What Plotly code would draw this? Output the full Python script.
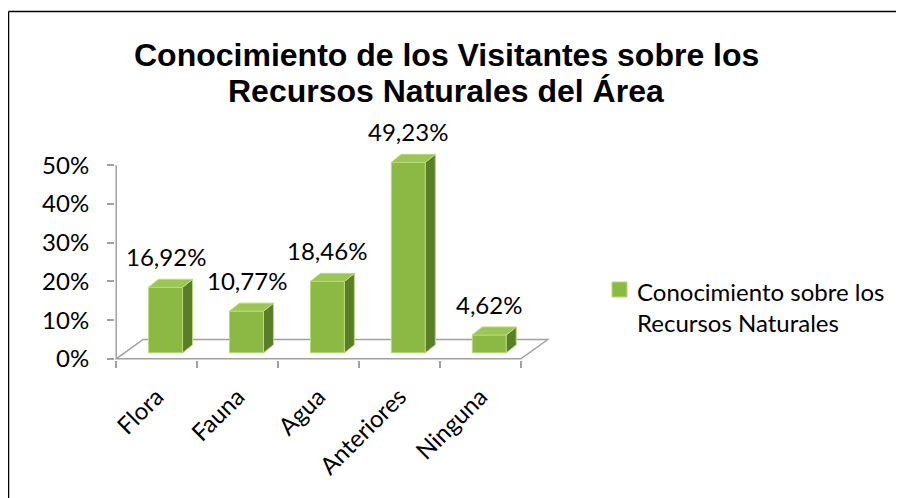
import plotly.graph_objects as go

# data
CATEGORIES = ["Flora", "Fauna", "Agua", "Anteriores", "Ninguna"]
VALUES = [16.92, 10.77, 18.46, 49.23, 4.62]
Y_TICKS = [0, 10, 20, 30, 40, 50]
Y_TICK_TEXT = ["0%", "10%", "20%", "30%", "40%", "50%"]
SERIES_NAME = "Conocimiento sobre los<br>Recursos Naturales"
TITLE_LINES = ["Conocimiento de los Visitantes sobre los",
               "Recursos Naturales del Área"]

# fake-3d geometry (category units / percent units)
BAR_OFF = 0.11      # shift of the bar's front face from category centre
BAR_W = 0.42        # front face width
BAR_BASE = 1.55     # bars stand a bit back on the floor
DEPTH_X = 0.123     # bar depth, horizontal
DEPTH_Y = 2.07      # bar depth, vertical
FLOOR_X = 0.333     # floor depth
FLOOR_Y = 5.0

FRONT = "#8bb944"
SIDE = "#5a7d27"
TOP = "#9bc556"
EDGE = "#b8db78"
AXIS = "#a0a0a0"
FONT = "Lato"

# the page body has an 8px margin, so the figure is a bit smaller
OFF = 8
W, H = 904 - OFF, 498 - OFF
M_L, M_R, M_T, M_B = 107, 354, 138, 138
PLOT_W = W - M_L - M_R
PLOT_H = H - M_T - M_B
X_RANGE = [-0.515, 4.86]
Y_RANGE = [-0.3, 55]


def px_x(px):
    # window pixel -> paper x
    return (px - OFF - M_L) / PLOT_W


def px_y(py):
    # window pixel -> paper y
    return (H - M_B - (py - OFF)) / PLOT_H


n = len(CATEGORIES)
fig = go.Figure()

# front faces
fig.add_trace(go.Bar(
    x=[i + BAR_OFF for i in range(n)],
    y=VALUES,
    base=BAR_BASE,
    width=BAR_W,
    marker=dict(color=FRONT, line=dict(color=EDGE, width=1)),
    showlegend=False,
    hoverinfo="skip",
))

# top and side faces
for i, v in enumerate(VALUES):
    xl = i + BAR_OFF - BAR_W / 2
    xr = i + BAR_OFF + BAR_W / 2
    top = BAR_BASE + v
    fig.add_trace(go.Scatter(
        x=[xr, xr + DEPTH_X, xr + DEPTH_X, xr, xr],
        y=[BAR_BASE, BAR_BASE + DEPTH_Y, top + DEPTH_Y, top, BAR_BASE],
        fill="toself", fillcolor=SIDE, mode="lines",
        line=dict(color=EDGE, width=1), showlegend=False, hoverinfo="skip",
    ))
    fig.add_trace(go.Scatter(
        x=[xl, xr, xr + DEPTH_X, xl + DEPTH_X, xl],
        y=[top, top, top + DEPTH_Y, top + DEPTH_Y, top],
        fill="toself", fillcolor=TOP, mode="lines",
        line=dict(color=EDGE, width=1), showlegend=False, hoverinfo="skip",
    ))
    fig.add_annotation(
        x=i + BAR_OFF, y=top + DEPTH_Y, text=f"{v:.2f}%".replace(".", ","),
        showarrow=False, yanchor="bottom", yshift=6,
        font=dict(family=FONT, size=24, color="black"),
    )

# floor and y axis line
fig.add_shape(
    type="path", xref="x", yref="y", layer="below",
    path=(f"M{-0.5},0 L{n - 0.5},0 L{n - 0.5 + FLOOR_X},{FLOOR_Y} "
          f"L{-0.5 + FLOOR_X},{FLOOR_Y} Z"),
    line=dict(color=AXIS, width=1.5), fillcolor="white",
)
fig.add_shape(type="line", xref="x", yref="y", x0=-0.5, x1=-0.5,
              y0=0, y1=Y_TICKS[-1], line=dict(color=AXIS, width=1.5))

# legend drawn by hand
fig.add_shape(type="rect", xref="paper", yref="paper",
              x0=px_x(612), x1=px_x(627), y0=px_y(297), y1=px_y(282),
              fillcolor=FRONT, line=dict(color=EDGE, width=1))
fig.add_annotation(xref="paper", yref="paper", x=px_x(635), y=px_y(307),
                   xanchor="left", yanchor="middle", align="left",
                   text=SERIES_NAME, showarrow=False,
                   font=dict(family=FONT, size=24, color="black"))

# title, two fairly tight lines
for line, yc in zip(TITLE_LINES, [55, 91]):
    fig.add_annotation(xref="paper", yref="paper", x=px_x(446), y=px_y(yc),
                       xanchor="center", yanchor="middle", text=line,
                       showarrow=False,
                       font=dict(family="Liberation Sans", size=32,
                                 color="black", weight="bold"))

# chart border (top and left only)
fig.add_shape(type="line", xref="paper", yref="paper",
              x0=px_x(8.5), x1=px_x(904), y0=px_y(11.5), y1=px_y(11.5),
              line=dict(color="black", width=1.5))
fig.add_shape(type="line", xref="paper", yref="paper",
              x0=px_x(8.5), x1=px_x(8.5), y0=px_y(11.5), y1=px_y(498),
              line=dict(color="black", width=1.5))

fig.update_layout(
    template="none",
    width=W, height=H,
    margin=dict(l=M_L, r=M_R, t=M_T, b=M_B),
    paper_bgcolor="white", plot_bgcolor="white",
    showlegend=False,
    xaxis=dict(
        range=X_RANGE, tickmode="array", tickvals=list(range(n)),
        ticktext=CATEGORIES, ticks="", tickangle=-45,
        showgrid=False, zeroline=False, showline=False, automargin=False,
        ticklabelstandoff=17,
        tickfont=dict(family=FONT, size=24, color="black"),
        minor=dict(tickmode="array", tickvals=[i - 0.5 for i in range(n + 1)],
                   ticks="outside", ticklen=7, tickcolor=AXIS, tickwidth=1.5,
                   showgrid=False),
    ),
    yaxis=dict(
        range=Y_RANGE, tickmode="array", tickvals=Y_TICKS, ticktext=Y_TICK_TEXT,
        ticks="outside", ticklen=7, tickcolor=AXIS, tickwidth=1.5,
        showgrid=False, zeroline=False, showline=False, automargin=False,
        ticklabelstandoff=13,
        tickfont=dict(family=FONT, size=24, color="black"),
    ),
)

fig.write_html("out.html")
